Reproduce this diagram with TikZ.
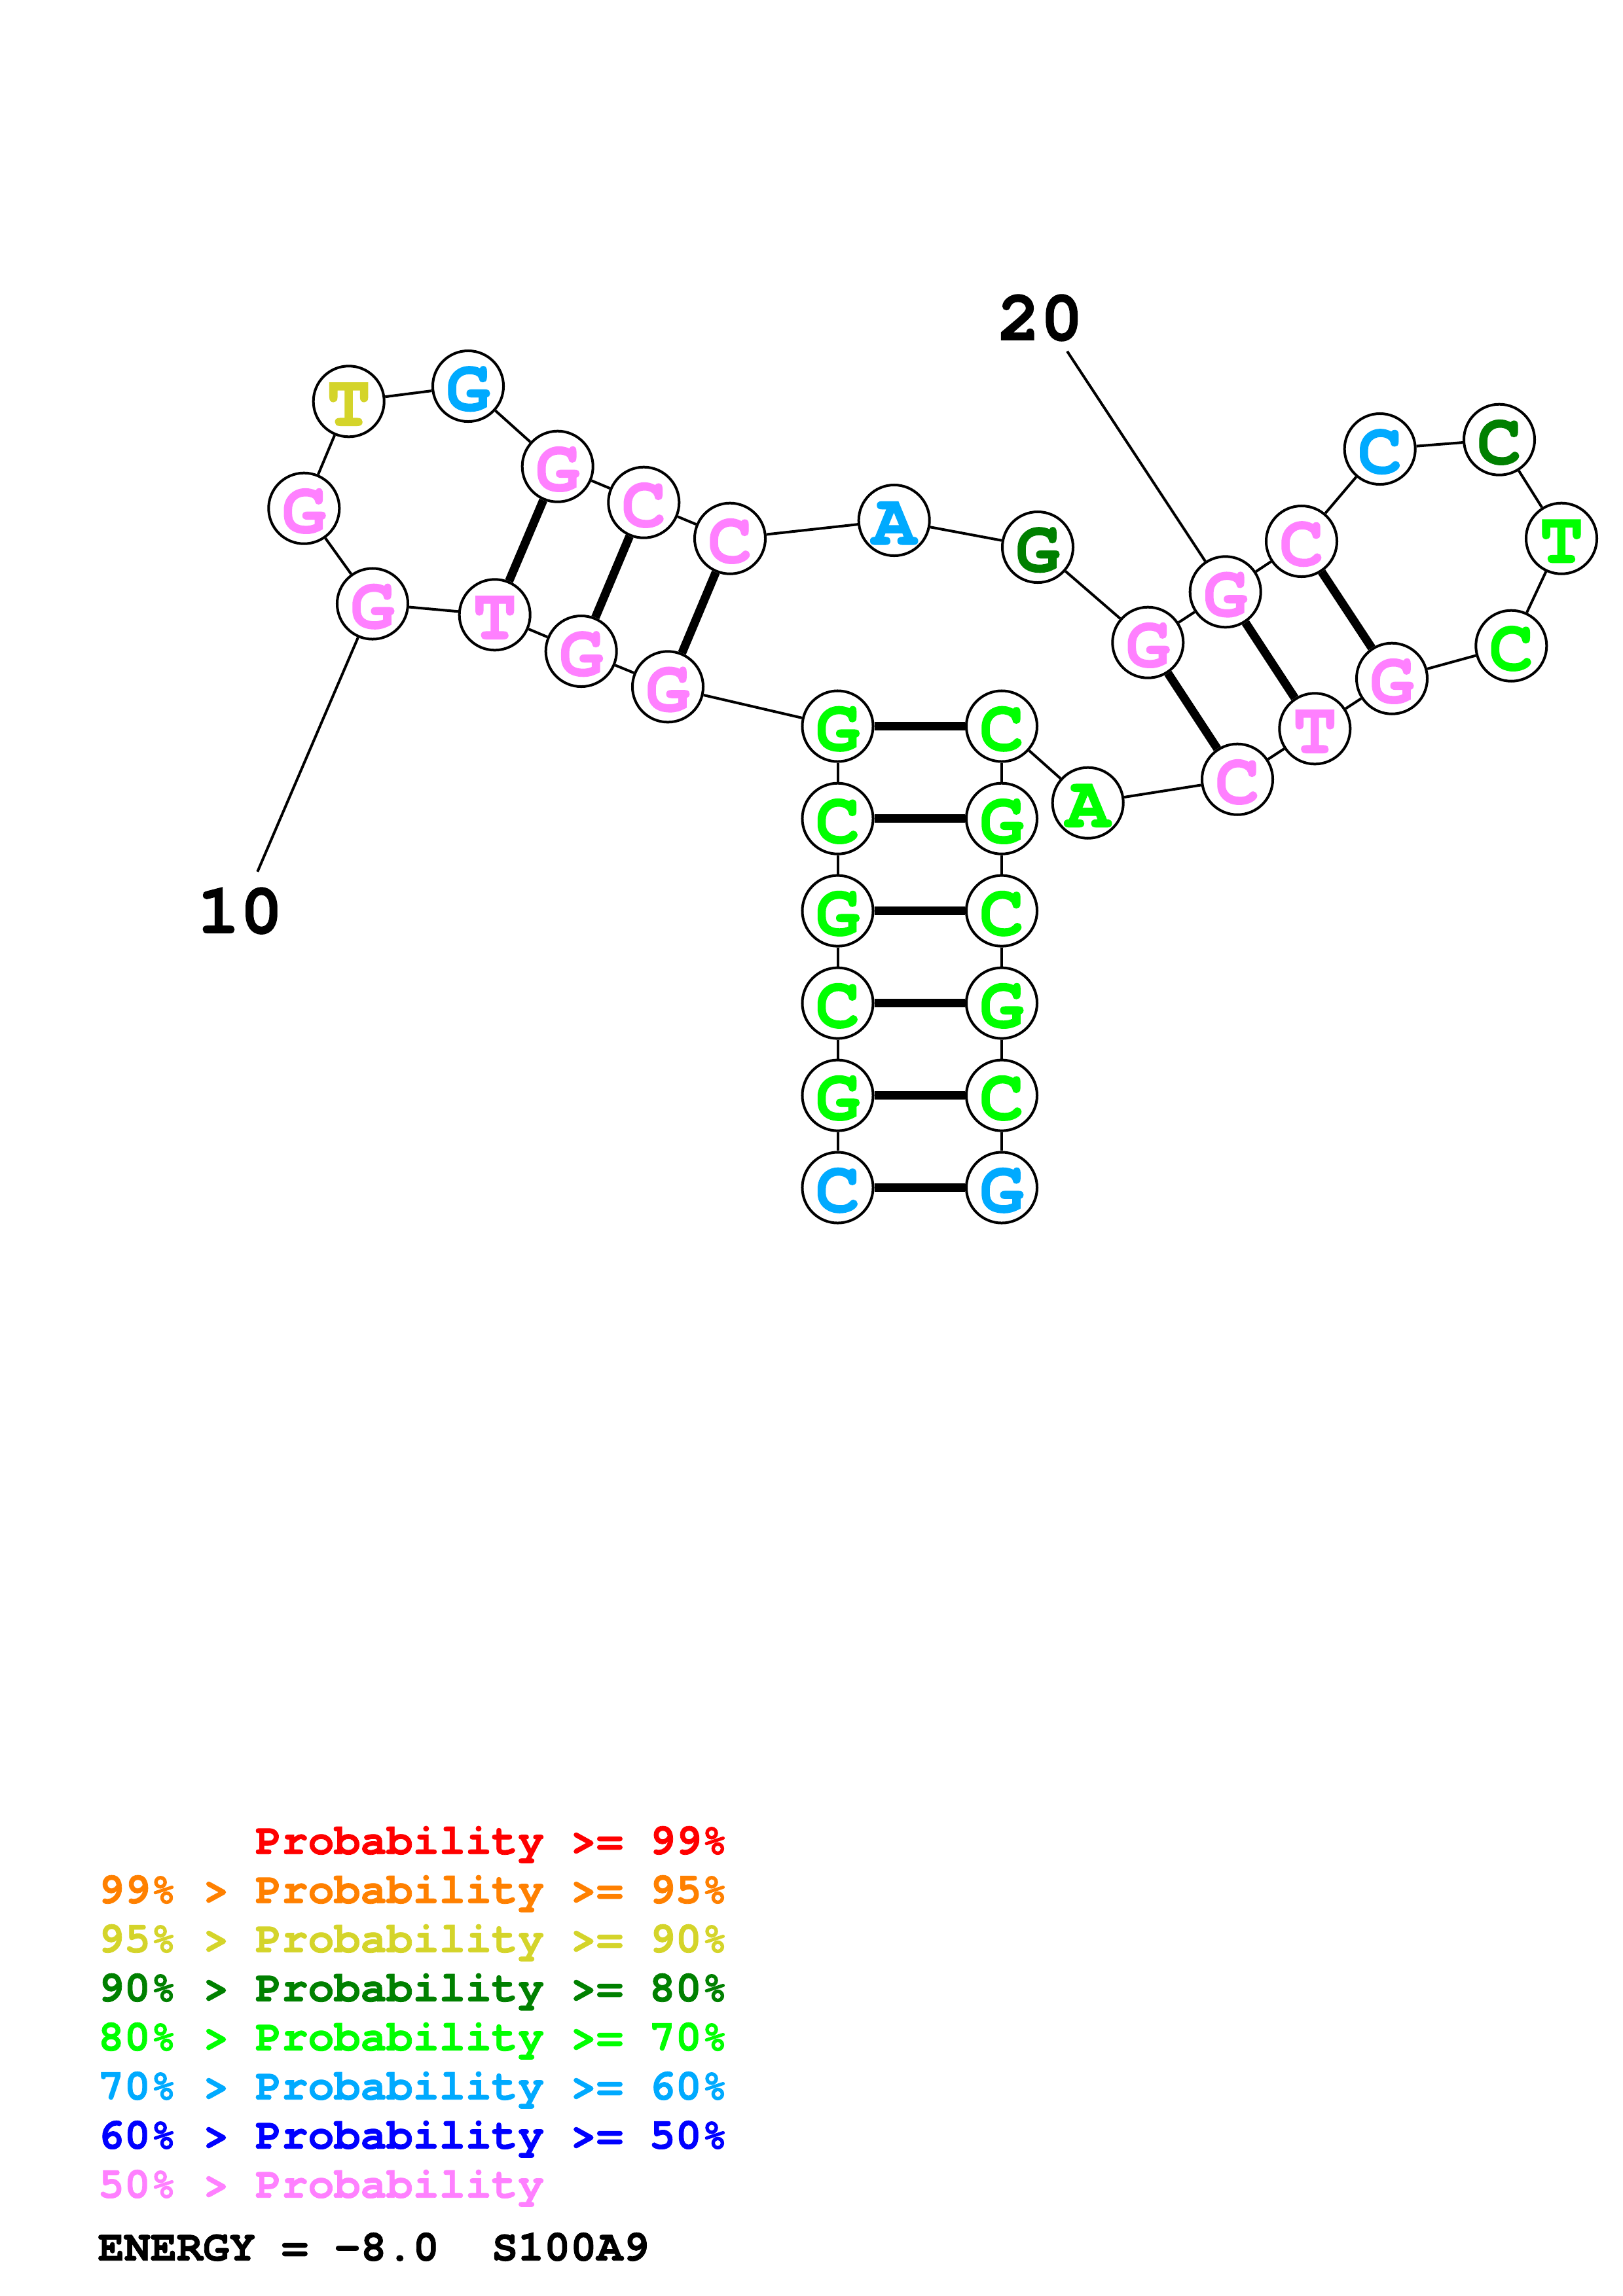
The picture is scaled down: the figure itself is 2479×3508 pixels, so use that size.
\documentclass[tikz,border=0pt]{standalone}
\usepackage{fontspec}
\setmonofont{TeX Gyre Cursor}[BoldFeatures={FakeBold=1.2}]
\definecolor{pk}{RGB}{255,128,255}
\definecolor{gr}{RGB}{0,255,0}
\definecolor{dg}{RGB}{0,128,0}
\definecolor{bl}{RGB}{0,170,255}
\definecolor{yl}{RGB}{212,212,42}
\definecolor{og}{RGB}{255,128,0}
\definecolor{rd}{RGB}{255,0,0}
\definecolor{db}{RGB}{0,0,255}
\tikzset{
  nt/.style={circle, draw=black, line width=0.04cm, fill=white, minimum size=1.08cm, inner sep=0pt,
    font=\ttfamily\bfseries\fontsize{32pt}{32pt}\selectfont, text height=0.74cm, text depth=0cm},
  bb/.style={line width=0.04cm},
  bp/.style={line width=0.13cm},
  lab/.style={inner sep=0pt, font=\ttfamily\bfseries\fontsize{31pt}{31pt}\selectfont},
  leg/.style={anchor=base west, inner sep=0pt, font=\ttfamily\bfseries\fontsize{19pt}{19pt}\selectfont}
}
\begin{document}
\begin{tikzpicture}[x=0.01cm,y=-0.01cm]
\useasboundingbox (0,0) rectangle (2479,3508);
% nucleotides
\node[nt,text=bl] (n1) at (1279.5,1814.5) {C};
\node[nt,text=gr] (n2) at (1279.5,1673.6) {G};
\node[nt,text=gr] (n3) at (1279.5,1532.6) {C};
\node[nt,text=gr] (n4) at (1279.5,1391.6) {G};
\node[nt,text=gr] (n5) at (1279.5,1250.7) {C};
\node[nt,text=gr] (n6) at (1279.5,1109.5) {G};
\node[nt,text=pk] (n7) at (1020,1049.3) {G};
\node[nt,text=pk] (n8) at (887.7,995) {G};
\node[nt,text=pk] (n9) at (755.7,939.3) {T};
\node[nt,text=pk] (n10) at (569,922.5) {G};
\node[nt,text=pk] (n11) at (464.3,776.7) {G};
\node[nt,text=yl] (n12) at (532.7,613.3) {T};
\node[nt,text=bl] (n13) at (715,590) {G};
\node[nt,text=pk] (n14) at (851.7,712.7) {G};
\node[nt,text=pk] (n15) at (983.3,767.7) {C};
\node[nt,text=pk] (n16) at (1115,822.7) {C};
\node[nt,text=bl] (n17) at (1365.7,795) {A};
\node[nt,text=dg] (n18) at (1585,836) {G};
\node[nt,text=pk] (n19) at (1753.3,981.7) {G};
\node[nt,text=pk] (n20) at (1871.7,904.3) {G};
\node[nt,text=pk] (n21) at (1988,827) {C};
\node[nt,text=bl] (n22) at (2107.7,686) {C};
\node[nt,text=dg] (n23) at (2290,671.7) {C};
\node[nt,text=gr] (n24) at (2385,822.7) {T};
\node[nt,text=gr] (n25) at (2308.3,986.7) {C};
\node[nt,text=pk] (n26) at (2126,1036.7) {G};
\node[nt,text=pk] (n27) at (2008.3,1113.3) {T};
\node[nt,text=pk] (n28) at (1890,1190.7) {C};
\node[nt,text=gr] (n29) at (1661.7,1226.7) {A};
\node[nt,text=gr] (n30) at (1530,1109.5) {C};
\node[nt,text=gr] (n31) at (1530,1250.7) {G};
\node[nt,text=gr] (n32) at (1530,1391.6) {C};
\node[nt,text=gr] (n33) at (1530,1532.6) {G};
\node[nt,text=gr] (n34) at (1530,1673.6) {C};
\node[nt,text=bl] (n35) at (1530,1814.5) {G};
% backbone
\foreach \a [evaluate=\a as \b using int(\a+1)] in {1,...,34}
  \draw[bb] (n\a) -- (n\b);
% pairs
\foreach \a/\b in {1/35,2/34,3/33,4/32,5/31,6/30,7/16,8/15,9/14,19/28,20/27,21/26}
  \draw[bp] (n\a) -- (n\b);
% position labels
\coordinate (e10) at (393.3,1331.8);
\draw[bb] (n10) -- (e10);
\node[lab] (l10) at (366.7,1391.6) {10};
\coordinate (e20) at (1630,536.7);
\draw[bb] (e20) -- (n20);
\node[lab] (l20) at (1589,485.5) {20};
% legend
\node[leg,text=rd] (g1) at (149,2832.7) {\hphantom{XXXXXX}Probability >= 99\%};
\node[leg,text=og] (g2) at (149,2907.7) {99\% > Probability >= 95\%};
\node[leg,text=yl] (g3) at (149,2982.7) {95\% > Probability >= 90\%};
\node[leg,text=dg] (g4) at (149,3057.7) {90\% > Probability >= 80\%};
\node[leg,text=gr] (g5) at (149,3132.7) {80\% > Probability >= 70\%};
\node[leg,text=bl] (g6) at (149,3207.7) {70\% > Probability >= 60\%};
\node[leg,text=db] (g7) at (149,3282.7) {60\% > Probability >= 50\%};
\node[leg,text=pk] (g8) at (149,3357.7) {50\% > Probability};
\node[leg,text=black] (g9) at (149,3453.7) {ENERGY = -8.0\ \ S100A9};
\end{tikzpicture}
\end{document}
